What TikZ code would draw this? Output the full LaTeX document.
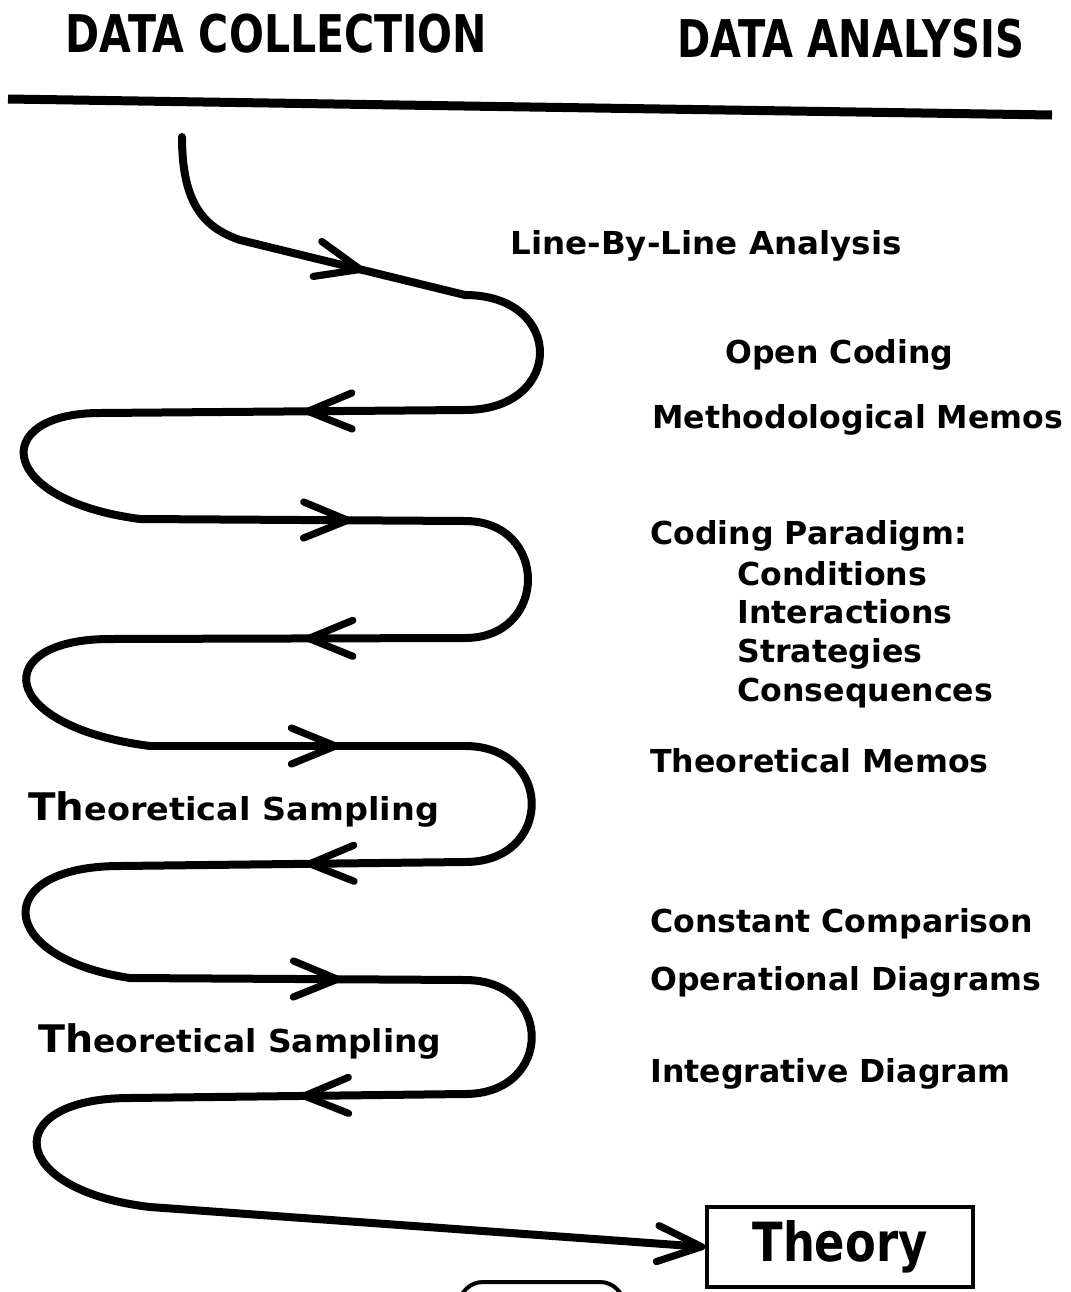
\documentclass[tikz,border=0pt]{standalone}
\usepackage{fontspec}
\setmainfont{DejaVu Sans}
\usetikzlibrary{arrows.meta, decorations.markings, positioning}

\begin{document}
\begin{tikzpicture}[
    x=0.5pt, y=-0.5pt,
    >={Straight Barb[length=22pt, width=18pt, line width=3.6pt, round]},
    flow/.style={line width=4pt, line cap=round, line join=round},
    midarrow/.style={postaction={decorate}, decoration={markings,
        mark=at position #1 with {\arrow{>}}}},
    lbl/.style={anchor=base west, inner sep=0pt, font=\bfseries\fontsize{15.8}{18}\selectfont},
    head/.style={anchor=base west, inner sep=0pt, font=\bfseries\fontsize{26}{28}\selectfont},
    result/.style={draw, line width=1.8pt, minimum width=133pt, minimum height=40pt,
                   font=\bfseries\fontsize{27}{30}\selectfont}
  ]
    \useasboundingbox (0,0) rectangle (1071,1292);
    \clip (0,0) rectangle (1071,1292);

    % headings and rule
    \node[head] (coll) at (65,52) {\scalebox{0.79}[1]{DATA COLLECTION}};
    \node[head] (anal) at (677,57) {\scalebox{0.77}[1]{DATA ANALYSIS}};
    \coordinate (rulel) at (8,99);
    \coordinate (ruler) at (1052,115);
    \draw[line width=4.5pt] (rulel) -- (ruler);

    % analysis steps
    \node[lbl] (lbl) at (510,254) {\scalebox{1.03}[1]{Line-By-Line Analysis}};
    \node[lbl] (open) at (725,363) {Open Coding};
    \node[lbl] (mmemo) at (652,428) {Methodological Memos};
    \node[lbl] (para) at (650,544) {Coding Paradigm:};
    \node[lbl] (cond) at (737,585) {Conditions};
    \node[lbl] (inter) at (737,623) {Interactions};
    \node[lbl] (strat) at (737,662) {Strategies};
    \node[lbl] (cons) at (737,701) {Consequences};
    \node[lbl] (tmemo) at (650,772) {Theoretical Memos};
    \node[lbl] (comp) at (650,932) {Constant Comparison};
    \node[lbl] (oper) at (650,990) {Operational Diagrams};
    \node[lbl] (integ) at (650,1082) {Integrative Diagram};
    \node[lbl] (samp1) at (28,820) {\scalebox{1.06}[1]{{\fontsize{19}{19}\selectfont Th}eoretical Sampling}};
    \node[lbl] (samp2) at (38,1052) {\scalebox{1.04}[1]{{\fontsize{19}{19}\selectfont Th}eoretical Sampling}};
    \node[result] (theory) at (840,1247) {\scalebox{0.83}[1]{Theory}};

    % the winding path
    \coordinate (p0) at (182,137);
    \coordinate (p1) at (240,240);
    \coordinate (p2) at (465,295);
    \coordinate (p3) at (465,410);
    \coordinate (p4) at (100,413);
    \coordinate (p5) at (140,519);
    \coordinate (p6) at (465,521);
    \coordinate (p7) at (465,638);
    \coordinate (p8) at (110,639);
    \coordinate (p9) at (150,746);
    \coordinate (p10) at (465,746);
    \coordinate (p11) at (465,862);
    \coordinate (p12) at (120,866);
    \coordinate (p13) at (130,978);
    \coordinate (p14) at (465,980);
    \coordinate (p15) at (465,1094);
    \coordinate (p16) at (130,1098);
    \coordinate (p17) at (150,1207);

    \draw[flow] (p0) .. controls (182,205) and (205,228) .. (p1);
    \draw[flow, midarrow=0.55] (p1) -- (p2);
    \draw[flow] (p2) .. controls (565,295) and (565,410) .. (p3);
    \draw[flow, midarrow=0.44] (p3) -- (p4);
    \draw[flow] (p4) .. controls (-10,413) and (-5,500) .. (p5);
    \draw[flow, midarrow=0.65] (p5) -- (p6);
    \draw[flow] (p6) .. controls (549,521) and (549,638) .. (p7);
    \draw[flow, midarrow=0.45] (p7) -- (p8);
    \draw[flow] (p8) .. controls (-10,639) and (-5,726) .. (p9);
    \draw[flow, midarrow=0.6] (p9) -- (p10);
    \draw[flow] (p10) .. controls (554,746) and (554,862) .. (p11);
    \draw[flow, midarrow=0.46] (p11) -- (p12);
    \draw[flow] (p12) .. controls (-10,866) and (-5,958) .. (p13);
    \draw[flow, midarrow=0.63] (p13) -- (p14);
    \draw[flow] (p14) .. controls (554,980) and (554,1094) .. (p15);
    \draw[flow, midarrow=0.49] (p15) -- (p16);
    \draw[flow] (p16) .. controls (0,1098) and (5,1190) .. (p17);
    \draw[flow, ->] (p17) -- (theory.west);

    % box cut off at the lower edge
    \draw[line width=2pt, rounded corners=12pt] (459,1310) -- (459,1282) -- (624,1282) -- (624,1310);
  \end{tikzpicture}
\end{document}
